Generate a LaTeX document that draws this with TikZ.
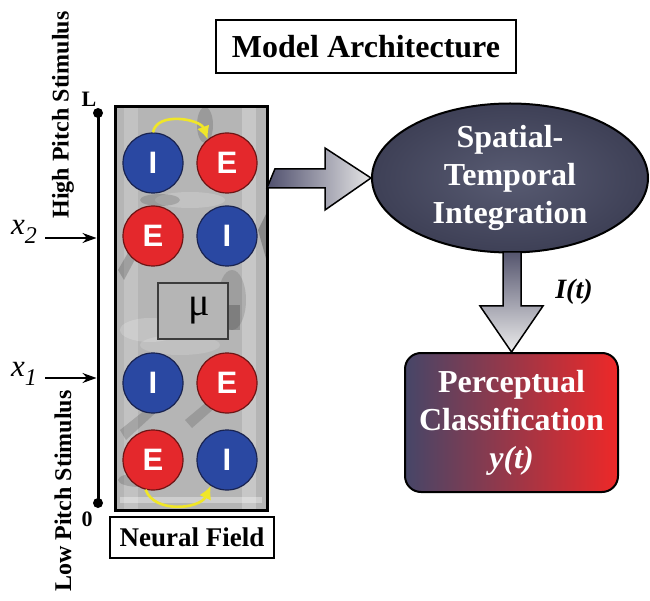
\documentclass[tikz,border=0pt]{standalone}
\usepackage{fontspec}
\setmainfont{Liberation Serif}
\newfontfamily\circfont{Liberation Sans}
\usetikzlibrary{shapes.geometric,arrows.meta,calc}
\definecolor{cblue}{RGB}{42,72,162}
\definecolor{cred}{RGB}{228,40,44}
\definecolor{slate}{RGB}{62,64,86}
\definecolor{slatel}{RGB}{88,91,114}
\definecolor{yarrow}{RGB}{240,230,40}
\tikzset{
  cellI/.style={circle,minimum size=60pt,inner sep=0pt,fill=cblue,draw={rgb,255:red,25;green,35;blue,80},line width=1.2pt,
    text=white,font=\circfont\bfseries\fontsize{31}{31}\selectfont},
  cellE/.style={cellI,fill=cred,draw={rgb,255:red,110;green,20;blue,20}},
  labelbox/.style={draw=black,line width=1.8pt,fill=white,font=\bfseries\fontsize{27}{30}\selectfont,inner sep=0pt},
  bigtext/.style={text=white,font=\bfseries\fontsize{32}{38}\selectfont,align=center},
  yel/.style={draw=yarrow,line width=2.6pt,-{Latex[length=13pt,width=13pt]}},
  stim/.style={line width=1.3pt,-{Stealth[length=14pt,width=10pt]}},
  rot/.style={rotate=90,font=\bfseries\fontsize{24}{24}\selectfont},
}
\begin{document}
\begin{tikzpicture}[x=1pt,y=-1pt]
\useasboundingbox (0,0) rectangle (650,601);
\fill[white] (0,0) rectangle (650,601);

% title
\node[labelbox,font=\bfseries\fontsize{32}{36}\selectfont,minimum width=300pt,minimum height=53pt] (title) at (366,46.5) {Model Architecture};

% rotated stimulus labels
\node[rot] (high) at (63,115) {High Pitch Stimulus};
\node[rot] (low) at (63,491) {Low Pitch Stimulus};

% axis
\coordinate (Ltop) at (98,113);
\coordinate (Lbot) at (98,503);
\draw[line width=3pt] (Ltop) -- (Lbot);
\fill (Ltop) circle (5pt);
\fill (Lbot) circle (5pt);
\node[font=\bfseries\fontsize{22}{22}\selectfont] (Llab) at (89,99) {L};
\node[font=\bfseries\fontsize{22}{22}\selectfont] (zlab) at (87,519) {0};

% stimulus inputs
\node[font=\itshape\fontsize{31}{31}\selectfont,inner sep=0pt] (x2) at (24,232) {x\raisebox{-9pt}{\fontsize{24}{24}\selectfont 2}};
\node[font=\itshape\fontsize{31}{31}\selectfont,inner sep=0pt] (x1) at (24,374) {x\raisebox{-9pt}{\fontsize{24}{24}\selectfont 1}};
\coordinate (a2) at (96.5,238);
\coordinate (a1) at (96.5,378);
\draw[stim] (45,238) -- (a2);
\draw[stim] (45,378) -- (a1);

% neural field (textured background)
\begin{scope}
\clip (115,107) rectangle (267,510);
\fill[gray!58] (115,107) rectangle (267,510);
\fill[white,opacity=0.25] (242,107) rectangle (256,510);
\fill[white,opacity=0.18] (124,107) rectangle (138,510);
\fill[black,opacity=0.18] (118,270) -- (150,215) -- (156,220) -- (124,280) -- cycle;
\fill[black,opacity=0.15] (185,420) -- (245,370) -- (250,377) -- (192,428) -- cycle;
\fill[black,opacity=0.15] (120,430) -- (170,390) -- (174,396) -- (126,440) -- cycle;
\fill[white,opacity=0.18] (150,330) ellipse (30pt and 12pt);
\fill[black,opacity=0.15] (205,125) ellipse (8pt and 18pt);
\fill[black,opacity=0.25] (258,230) -- (267,212) -- (267,262) -- cycle;
\fill[white,opacity=0.18] (190,200) ellipse (35pt and 8pt);
\fill[black,opacity=0.15] (140,480) ellipse (22pt and 7pt);
\fill[white,opacity=0.35] (120,497) rectangle (262,503);
\fill[black,opacity=0.12] (232,300) ellipse (14pt and 30pt);
\fill[black,opacity=0.2] (228,305) rectangle (240,330);
\fill[white,opacity=0.15] (180,345) ellipse (40pt and 10pt);
\fill[black,opacity=0.15] (160,200) ellipse (20pt and 6pt);
\end{scope}
\draw[line width=3pt] (115,107) rectangle (267,510);
\node[draw={rgb,255:red,60;green,60;blue,60},line width=1.4pt,fill=gray!58!white,minimum width=70pt,minimum height=56pt,inner sep=0pt,
  font=\fontsize{40}{40}\selectfont] (mu) at (193,311) {\hspace*{12pt}μ};

\node[cellI] (I1) at (153,163) {I};
\node[cellE] (E1) at (227,163) {E};
\node[cellE] (E2) at (153,236) {E};
\node[cellI] (I2) at (227,236) {I};
\node[cellI] (I3) at (153,383) {I};
\node[cellE] (E3) at (227,383) {E};
\node[cellE] (E4) at (153,460) {E};
\node[cellI] (I4) at (227,460) {I};

\draw[yel] (I1.north) to[out=80,in=110] (E1.129);
\draw[yel] (E4.256) to[out=-70,in=-115] (I4.238);

\node[labelbox,minimum width=164pt,minimum height=41pt] (nf) at (192,537.5) {Neural Field};

% ellipse
\node[ellipse,draw=black,line width=2pt,inner sep=0pt,minimum width=276pt,minimum height=149pt,
  inner color=slatel,outer color=slate] (sti) at (510,178) {};
\node[bigtext] (stitext) at (sti.center) {Spatial-\\Temporal\\Integration};

% perceptual classification
\node[draw=black,line width=2pt,rounded corners=16pt,minimum width=213pt,minimum height=139pt,
  left color={rgb,255:red,70;green,70;blue,104},middle color={rgb,255:red,205;green,34;blue,44},
  right color={rgb,255:red,238;green,40;blue,40}] (pc) at (511.5,422.5) {};
\node[bigtext] (pctext) at (pc.center) {Perceptual\\Classification\\\textit{y(t)}};

% big right arrow
\shade[left color={rgb,255:red,80;green,80;blue,110},right color=gray!20,draw=black,line width=1.5pt]
  (nf.east |- 0,169) -- (325,169) -- (325,148) -- (sti.west) -- (325,210) -- (325,188) -- (267,188) -- cycle;
% down arrow
\shade[top color={rgb,255:red,85;green,85;blue,110},bottom color=gray!15,draw=black,line width=1.5pt]
  (503,252) -- (503,306) -- (480,306) -- (pc.north) -- (543,306) -- (521,306) -- (521,252) -- cycle;
\node[font=\bfseries\itshape\fontsize{28}{28}\selectfont] (It) at (574,292) {I(t)};
\end{tikzpicture}
\end{document}
